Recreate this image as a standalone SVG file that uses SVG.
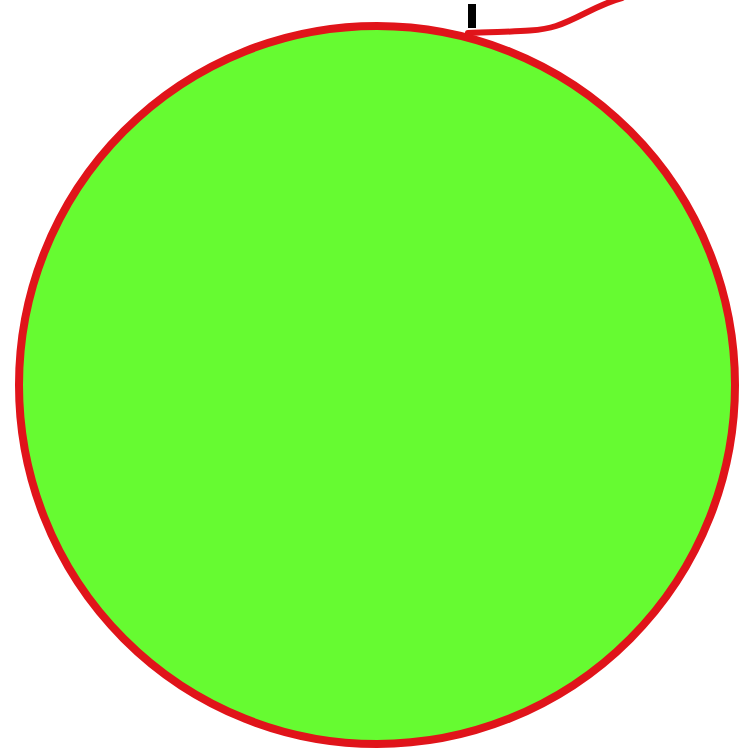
<svg xmlns="http://www.w3.org/2000/svg" width="747" height="754" viewBox="0 0 747 754">
<style>.red{fill:none;stroke:#e0141a;stroke-width:6;stroke-linecap:round}</style>
<rect width="747" height="754" fill="#ffffff"/>
<g id="ball">
<ellipse cx="377" cy="385" rx="358" ry="359" fill="#66fb31" stroke="#e0141a" stroke-width="8"/>
</g>
<g id="connectors">
<path class="red" d="M 468 33 C 500 31, 535 33, 556 26 C 578 19, 598 4, 622 -2"/>
<rect x="468" y="4" width="8" height="24" fill="#000"/>
</g>
</svg>
